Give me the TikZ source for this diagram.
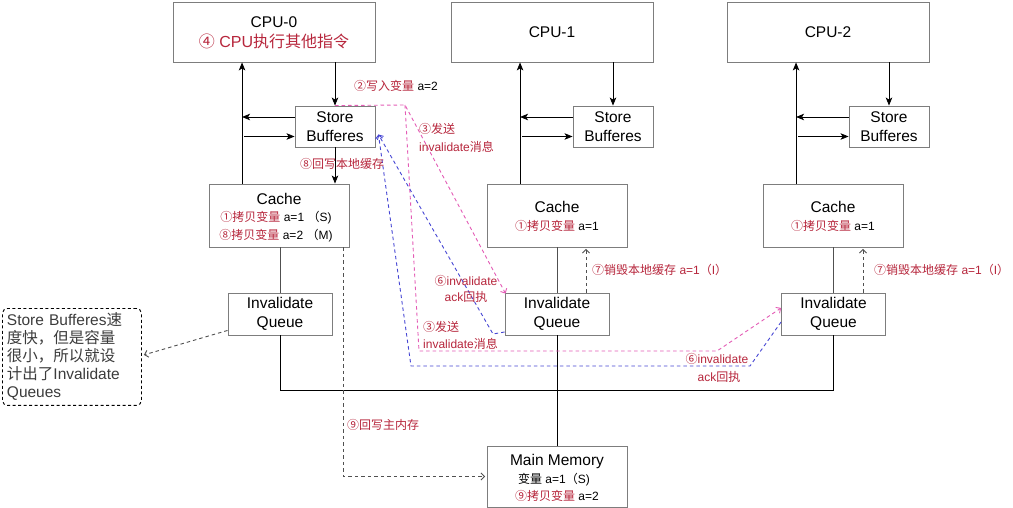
\documentclass[tikz,border=0pt]{standalone}
\usepackage{fontspec}
\setmainfont{Liberation Sans}
\newfontfamily\cjk{Noto Sans CJK SC}
\usetikzlibrary{arrows.meta,calc}
\newcommand\zh[1]{{\cjk #1}}
\newcommand\mainsz{\fontsize{15.5}{18.5}\selectfont}
\newcommand\lblsz{\fontsize{12}{16}\selectfont}
\definecolor{boxgray}{RGB}{125,125,125}
\definecolor{lblred}{RGB}{183,38,60}
\definecolor{pinkd}{RGB}{228,92,182}
\definecolor{blued}{RGB}{70,70,212}
\definecolor{notegray}{RGB}{60,60,60}
\definecolor{dashgray}{RGB}{80,80,80}
\begin{document}
\begin{tikzpicture}[x=1pt,y=-1pt,
  box/.style={draw=boxgray,line width=0.9pt,inner sep=0pt,align=center,font=\mainsz},
  ttl/.style={anchor=base,inner sep=0pt,font=\mainsz},
  lbl/.style={anchor=base west,inner sep=0pt,font=\lblsz,text=lblred},
  lblc/.style={anchor=base,inner sep=0pt,font=\lblsz,text=lblred},
  arr/.style={line width=0.8pt,-{Stealth[length=8pt,width=6.5pt,inset=2pt]}},
  conn/.style={line width=0.8pt},
  openarr/.style={-{Straight Barb[length=3.5pt,width=7pt]}},
  dk/.style={dash pattern=on 3.5pt off 3pt,line width=0.9pt}]
\fill[white] (0,0) rectangle (1013,508);
\useasboundingbox (0,0) rectangle (1013,508);

% CPUs
\node[box,minimum width=202,minimum height=60] (cpu0) at (274,32) {};
\node[ttl] (cpu0t) at (274,27.2) {CPU-0};
\node[ttl,font=\fontsize{16}{18}\selectfont,text=lblred] (cpu0s) at (274,47.7) {\zh{④} CPU\zh{执行其他指令}};
\node[box,minimum width=202,minimum height=60] (cpu1) at (552,32) {CPU-1};
\node[box,minimum width=202,minimum height=60] (cpu2) at (828,32) {CPU-2};

% Store buffers
\node[box,minimum width=80,minimum height=41] (sb0) at (335,126.5) {Store\\Bufferes};
\node[box,minimum width=80,minimum height=41] (sb1) at (613,126.5) {Store\\Bufferes};
\node[box,minimum width=80,minimum height=41] (sb2) at (889,126.5) {Store\\Bufferes};

% Caches
\node[box,minimum width=140,minimum height=63] (cache0) at (279,215.5) {};
\node[ttl] (c0t) at (279,204.5) {Cache};
\node[lblc] (c0a) at (276,221.6) {\zh{①拷贝变量} \textcolor{black}{a=1 \zh{（}S)}};
\node[lblc] (c0b) at (276,239.6) {\zh{⑧拷贝变量} \textcolor{black}{a=2 \zh{（}M)}};
\node[box,minimum width=140,minimum height=63] (cache1) at (557,215.5) {};
\node[ttl] (c1t) at (557,212.5) {Cache};
\node[lblc] (c1a) at (557,230.3) {\zh{①拷贝变量} \textcolor{black}{a=1}};
\node[box,minimum width=140,minimum height=63] (cache2) at (833,215.5) {};
\node[ttl] (c2t) at (833,212.5) {Cache};
\node[lblc] (c2a) at (833,230.3) {\zh{①拷贝变量} \textcolor{black}{a=1}};

% Invalidate queues
\node[box,minimum width=104,minimum height=42] (iq0) at (280,314) {Invalidate\\Queue};
\node[box,minimum width=104,minimum height=42] (iq1) at (557,314) {Invalidate\\Queue};
\node[box,minimum width=104,minimum height=42] (iq2) at (833.5,314) {Invalidate\\Queue};

% Main memory
\node[box,minimum width=140,minimum height=61] (mm) at (557,476.5) {};
\node[ttl] (mmt) at (557,465.5) {Main Memory};
\node[lblc,text=black] (mma) at (554,483.6) {\zh{变量} a=1\zh{（}S)};
\node[lblc] (mmb) at (557,500.3) {\zh{⑨拷贝变量} \textcolor{black}{a=2}};

% Note
\node[draw=black,dash pattern=on 3pt off 2.5pt,line width=0.9pt,rounded corners=5pt,
  anchor=north west,minimum width=139,minimum height=96,inner sep=4.5pt,
  text width=130,align=left,font=\fontsize{15.5}{18}\selectfont,text=notegray] (note) at (2,308)
  {Store Bufferes\zh{速}\\\zh{度快，但是容量}\\\zh{很小，所以就设}\\\zh{计出了}Invalidate\\Queues};

% vertical up lines to CPUs
\coordinate (v0) at ($(cache0.north west)+(33.5,0)$);
\coordinate (v1) at ($(cache1.north west)+(33.5,0)$);
\coordinate (v2) at ($(cache2.north west)+(33.5,0)$);
\draw[arr] (v0) -- (v0 |- cpu0.south);
\draw[arr] (v1) -- (v1 |- cpu1.south);
\draw[arr] (v2) -- (v2 |- cpu2.south);

% CPU -> store buffers
\draw[arr] (sb0.north |- cpu0.south) -- (sb0.north);
\draw[arr] (sb1.north |- cpu1.south) -- (sb1.north);
\draw[arr] (sb2.north |- cpu2.south) -- (sb2.north);

% store buffer side arrows
\coordinate (s0a) at ($(sb0.west)+(0,-9.5)$);
\coordinate (s0b) at ($(sb0.west)+(0,10)$);
\coordinate (s1a) at ($(sb1.west)+(0,-9.5)$);
\coordinate (s1b) at ($(sb1.west)+(0,10)$);
\coordinate (s2a) at ($(sb2.west)+(0,-9.5)$);
\coordinate (s2b) at ($(sb2.west)+(0,10)$);
\draw[arr] (s0a) -- (s0a -| v0);
\draw[arr] ($(s0b -| v0)+(2,0)$) -- (s0b);
\draw[arr] (s1a) -- (s1a -| v1);
\draw[arr] ($(s1b -| v1)+(2,0)$) -- (s1b);
\draw[arr] (s2a) -- (s2a -| v2);
\draw[arr] ($(s2b -| v2)+(2,0)$) -- (s2b);

% store buffer -> cache (CPU-0)
\draw[arr] (sb0.south) -- (sb0.south |- cache0.north);

% cache -> invalidate queue lines
\draw[conn,draw=dashgray] (iq0.north |- cache0.south) -- (iq0.north);
\draw[conn,draw=dashgray] (iq1.north |- cache1.south) -- (iq1.north);
\draw[conn,draw=dashgray] (iq2.north |- cache2.south) -- (iq2.north);

% bus
\coordinate (bus) at (0,390);
\draw[conn] (iq0.south) -- (iq0.south |- bus) -- (iq2.south |- bus) -- (iq2.south);
\draw[conn] (iq1.south) -- (mm.north);

% (7) invalidate local cache
\coordinate (d1) at ($(iq1.north)+(29,0)$);
\coordinate (d2) at ($(iq2.north)+(29.5,0)$);
\draw[dk,draw=dashgray,openarr,shorten >=1.5pt] (d1) -- (d1 |- cache1.south);
\draw[dk,draw=dashgray,openarr,shorten >=1.5pt] (d2) -- (d2 |- cache2.south);

% (9) write back to main memory
\coordinate (g0) at ($(cache0.south east)+(-6,0)$);
\draw[dk,draw=dashgray,openarr,shorten >=1.5pt] (g0) |- (mm.west);

% note arrow
\draw[dk,draw=dashgray,openarr] ($(iq0.south west)+(0,-5)$) -- ($(note.east)+(2,-2)$);

% pink (3) invalidate messages
\coordinate (p0) at (405,105);
\coordinate (p1) at (419,351);
\coordinate (p2) at (717,351);
\draw[dk,draw=pinkd,openarr] (sb0.north) -- (p0) -- ($(iq1.north west)+(1,1)$);
\draw[dk,draw=pinkd,openarr] (p0) -- (p1) -- (p2) -- ($(iq2.west)+(0,-6)$);

% blue (6) acks
\coordinate (btip) at ($(sb0.east)+(3,8)$);
\coordinate (b1) at (493,334);
\coordinate (b2) at (750,366);
\coordinate (b3) at (411,366);
\draw[dk,draw=blued,openarr] ($(iq1.west)+(0,18)$) -- (b1) -- (btip);
\draw[dk,draw=blued,openarr] ($(iq2.west)+(0,8)$) -- (b2) -- (b3) -- (btip);

% labels
\node[lbl] (l2) at (354,90.3) {\zh{②写入变量} \textcolor{black}{a=2}};
\node[lbl] (l3a) at (419,133.6) {\zh{③发送}};
\node[lbl] (l3b) at (419,151.5) {invalidate\zh{消息}};
\node[lbl] (l8) at (300,168.6) {\zh{⑧回写本地缓存}};
\node[lblc] (l6a) at (466,285.6) {\zh{⑥}invalidate};
\node[lblc] (l6b) at (466,301.6) {ack\zh{回执}};
\node[lbl] (l3c) at (423,331.3) {\zh{③发送}};
\node[lbl] (l3d) at (423,348.6) {invalidate\zh{消息}};
\node[lblc] (l6c) at (717,363.6) {\zh{⑥}invalidate};
\node[lblc] (l6d) at (719,381.3) {ack\zh{回执}};
\node[lbl] (l7a) at (592,274.6) {\zh{⑦销毁本地缓存} a=1\zh{（}I\zh{）}};
\node[lbl] (l7b) at (874,274.6) {\zh{⑦销毁本地缓存} a=1\zh{（}I\zh{）}};
\node[lbl] (l9) at (347,429.6) {\zh{⑨回写主内存}};
\end{tikzpicture}
\end{document}
